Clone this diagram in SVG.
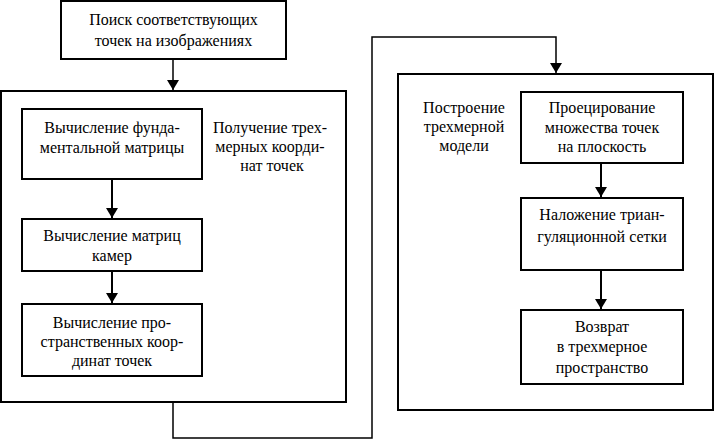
<svg xmlns="http://www.w3.org/2000/svg" width="715" height="440" viewBox="0 0 715 440">
<style>
.box{fill:#fff;stroke:#000;stroke-width:2}
.c{fill:none;stroke:#000;stroke-width:1.5}
.c2{fill:none;stroke:#000;stroke-width:2}
</style>
<defs>
<marker id="ah" viewBox="0 0 10 12" refX="10" refY="6" markerWidth="10" markerHeight="12" markerUnits="userSpaceOnUse" orient="auto">
<path d="M0,0 L10,6 L0,12 Z" fill="#000"/>
</marker>
</defs>
<g font-family="Liberation Serif, Times New Roman, serif" font-size="16" text-anchor="middle" fill="#000">
<g id="n_search">
<rect class="box" x="61" y="1" width="225" height="58"/>
<text x="173.5" y="25">Поиск соответствующих</text>
<text x="173.5" y="46">точек на изображениях</text>
</g>
<g id="n_left">
<rect class="box" x="1" y="91" width="345" height="311"/>
<text x="270" y="133">Получение трех-</text>
<text x="270" y="152">мерных коорди-</text>
<text x="272" y="171">нат точек</text>
</g>
<g id="n_fund">
<rect class="box" x="22" y="109" width="180" height="70"/>
<text x="112" y="133">Вычисление фунда-</text>
<text x="112" y="153">ментальной матрицы</text>
</g>
<g id="n_cam">
<rect class="box" x="22" y="219" width="180" height="52"/>
<text x="112" y="241">Вычисление матриц</text>
<text x="112" y="261">камер</text>
</g>
<g id="n_coord">
<rect class="box" x="22" y="304" width="180" height="72"/>
<text x="112" y="328">Вычисление про-</text>
<text x="112" y="347">странственных коор-</text>
<text x="112" y="366">динат точек</text>
</g>
<g id="n_right">
<rect class="box" x="398" y="74" width="315" height="336"/>
<text x="464" y="113">Построение</text>
<text x="464" y="132">трехмерной</text>
<text x="464" y="151">модели</text>
</g>
<g id="n_proj">
<rect class="box" x="521" y="92" width="162" height="71"/>
<text x="602" y="113">Проецирование</text>
<text x="602" y="133">множества точек</text>
<text x="602" y="152">на плоскость</text>
</g>
<g id="n_tri">
<rect class="box" x="521" y="198" width="162" height="72"/>
<text x="602" y="220">Наложение триан-</text>
<text x="602" y="242">гуляционной сетки</text>
</g>
<g id="n_ret">
<rect class="box" x="521" y="310" width="162" height="74"/>
<text x="602" y="332">Возврат</text>
<text x="602" y="352">в трехмерное</text>
<text x="602" y="373">пространство</text>
</g>
</g>
<g id="connectors">
<path class="c" d="M173,59 V90" marker-end="url(#ah)"/>
<path class="c2" d="M112,179 V218" marker-end="url(#ah)"/>
<path class="c2" d="M112,271 V303" marker-end="url(#ah)"/>
<path class="c" d="M173,402 V438 H372 V37 H556 V73" marker-end="url(#ah)"/>
<path class="c2" d="M601,163 V197" marker-end="url(#ah)"/>
<path class="c2" d="M601,270 V309" marker-end="url(#ah)"/>
</g>
</svg>
